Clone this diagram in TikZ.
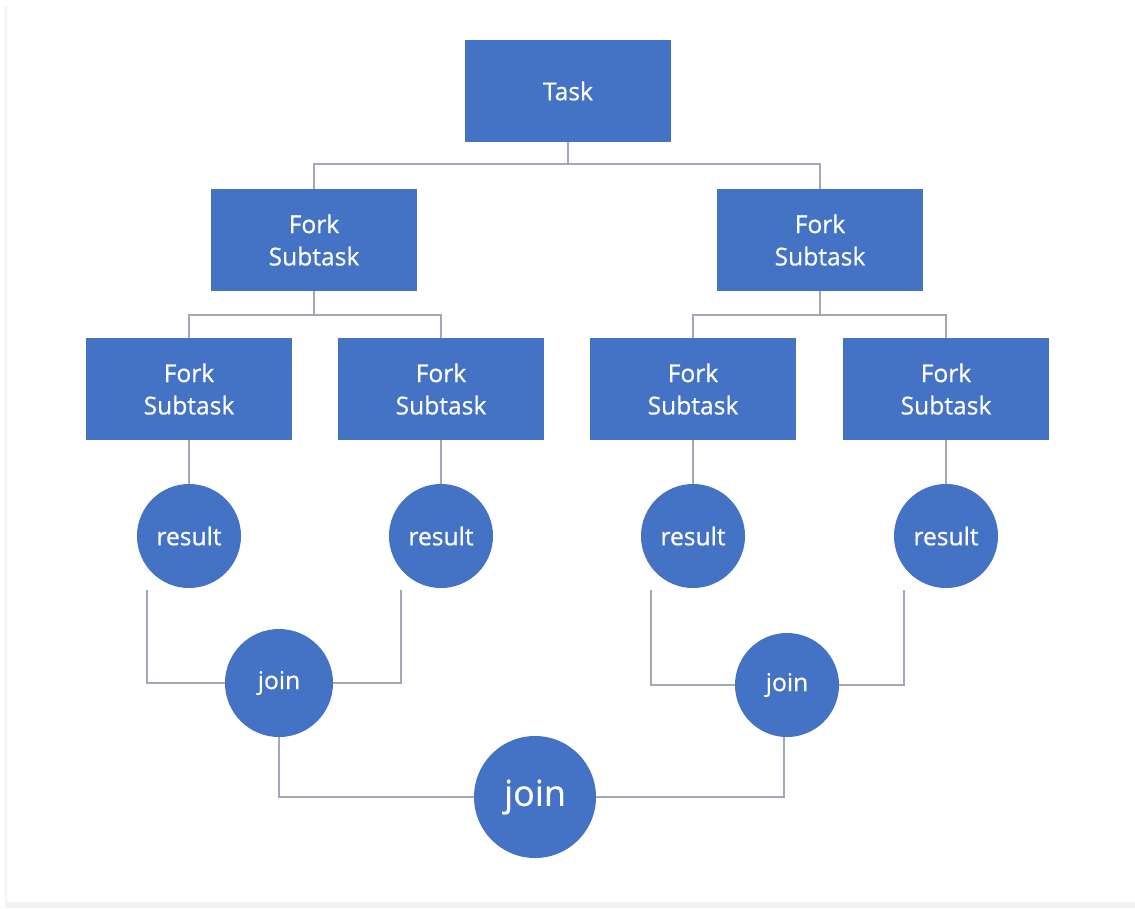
\documentclass[tikz,border=0pt]{standalone}
\usepackage{fontspec}
\setmainfont{Open Sans}
\newfontfamily\boxfont[FakeBold=0.6]{Open Sans}
\definecolor{boxblue}{HTML}{4472C4}
\definecolor{linegray}{HTML}{A3A8B8}
\definecolor{framegray}{HTML}{F2F2F2}
\begin{document}
\begin{tikzpicture}[x=0.025cm, y=-0.025cm,
  box/.style={rectangle, fill=boxblue, text=white, align=center,
    minimum width=5.15cm, minimum height=2.55cm, inner sep=0pt,
    font=\boxfont\fontsize{17.5}{23}\selectfont},
  res/.style={circle, fill=boxblue, text=white, minimum size=2.6cm,
    inner sep=0pt, font=\boxfont\fontsize{17.5}{23}\selectfont},
  wire/.style={draw=linegray, line width=1.3pt}]
\useasboundingbox (0,0) rectangle (1135,908);
\fill[framegray] (5,6) rectangle (7,902);
\fill[framegray] (5,902) rectangle (1135,908);
\node[box] (task) at (568,91) {Task};
\node[box] (forkA) at (314,240) {Fork\\Subtask};
\node[box] (forkB) at (820,240) {Fork\\Subtask};
\node[box] (subA1) at (189,389) {Fork\\Subtask};
\node[box] (subA2) at (441,389) {Fork\\Subtask};
\node[box] (subB1) at (693,389) {Fork\\Subtask};
\node[box] (subB2) at (946,389) {Fork\\Subtask};
\node[res] (resA1) at (189,536) {result};
\node[res] (resA2) at (441,536) {result};
\node[res] (resB1) at (693,536) {result};
\node[res] (resB2) at (946,536) {result};
\node[res, minimum size=2.7cm] (joinA) at (279,683) {join};
\node[res] (joinB) at (787,685) {join};
\node[res, minimum size=3.05cm, font=\boxfont\fontsize{25.5}{30}\selectfont] (joinAll) at (535,797) {join};
% free ends below the results
\coordinate (endA1) at (147,590);
\coordinate (endA2) at (401,590);
\coordinate (endB1) at (651,590);
\coordinate (endB2) at (904,590);
% fork lines
\draw[wire] (task.south) -- (task.south |- 0,164) -| (forkA.north);
\draw[wire] (task.south |- 0,164) -| (forkB.north);
\draw[wire] (forkA.south) -- (forkA.south |- 0,315) -| (subA1.north);
\draw[wire] (forkA.south |- 0,315) -| (subA2.north);
\draw[wire] (forkB.south) -- (forkB.south |- 0,315) -| (subB1.north);
\draw[wire] (forkB.south |- 0,315) -| (subB2.north);
\draw[wire] (subA1.south) -- (resA1.north);
\draw[wire] (subA2.south) -- (resA2.north);
\draw[wire] (subB1.south) -- (resB1.north);
\draw[wire] (subB2.south) -- (resB2.north);
% join lines
\draw[wire] (endA1) |- (joinA.west);
\draw[wire] (endA2) |- (joinA.east);
\draw[wire] (endB1) |- (joinB.west);
\draw[wire] (endB2) |- (joinB.east);
\draw[wire] (joinA.south) |- (joinAll.west);
\draw[wire] ([xshift=-2]joinB.south) |- (joinAll.east);
\end{tikzpicture}
\end{document}
